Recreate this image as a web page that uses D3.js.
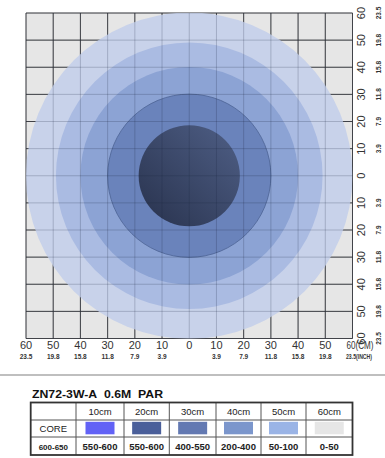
<!DOCTYPE html>
<html><head><meta charset="utf-8">
<script src="https://cdn.jsdelivr.net/npm/d3@7"></script>
<style>body{margin:0;background:#fff;} text{font-family:Arial,"Liberation Sans",sans-serif;}</style>
</head><body>
<svg id="c" width="385" height="458"></svg>
<script>
// ---- data ----
const radiiCm = [60, 49, 40, 30, 18.6];
const ringColors = ["#c8d2ea", "#aabbe2", "#8ca3d4", "#6a83bb", "core"];
const cmTicks = [-60,-50,-40,-30,-20,-10,0,10,20,30,40,50,60];
const cmLabels = ["60","50","40","30","20","10","0","10","20","30","40","50","60"];
const inchLabels = ["23.5","19.8","15.8","11.8","7.9","3.9","","3.9","7.9","11.8","15.8","19.8","23.5"];
const tableTitle = "ZN72-3W-A\u00a0\u00a00.6M\u00a0\u00a0PAR";
const tableHeaders = ["", "10cm", "20cm", "30cm", "40cm", "50cm", "60cm"];
const swatchLabel = "CORE";
const swatchColors = ["#6262f6", "#4a5f9a", "#6379b2", "#7b96cc", "#9ab4e6", "#e6e6e6"];
const parValues = ["600-650", "550-600", "550-600", "400-550", "200-400", "50-100", "0-50"];

const svg = d3.select("#c");
const x = d3.scaleLinear().domain([-60, 60]).range([26, 352.5]);
const y = d3.scaleLinear().domain([60, -60]).range([13, 338.5]);
const k = x(1) - x(0);

const defs = svg.append("defs");
defs.append("clipPath").attr("id","clip").append("rect")
  .attr("x", x(-60)).attr("y", y(60)).attr("width", x(60)-x(-60)).attr("height", y(-60)-y(60));
const g1 = defs.append("linearGradient").attr("id","coreG").attr("x1","0").attr("y1","1").attr("x2","1").attr("y2","0");
g1.append("stop").attr("offset","0").attr("stop-color","#28324d");
g1.append("stop").attr("offset","1").attr("stop-color","#4f5f86");

// background
svg.append("rect").attr("x", x(-60)).attr("y", y(60))
  .attr("width", x(60)-x(-60)).attr("height", y(-60)-y(60)).attr("fill", "#e6e6e6");

function drawGrid(color, opacity) {
  const grid = svg.append("g").attr("stroke", color).attr("stroke-opacity", opacity).attr("stroke-width", 1);
  grid.selectAll("line.v").data(cmTicks).join("line").attr("class","v")
    .attr("x1", d => x(d)).attr("x2", d => x(d)).attr("y1", y(60)).attr("y2", y(-60));
  grid.selectAll("line.h").data(cmTicks).join("line").attr("class","h")
    .attr("y1", d => y(d)).attr("y2", d => y(d)).attr("x1", x(-60)).attr("x2", x(60));
}
drawGrid("#3a3a3a", 0.9);

const plot = svg.append("g").attr("clip-path","url(#clip)");
plot.selectAll("circle.ring").data(radiiCm).join("circle")
  .attr("class","ring")
  .attr("cx", x(0)).attr("cy", y(0))
  .attr("r", d => d * k)
  .attr("fill", (d,i) => ringColors[i] === "core" ? "url(#coreG)" : ringColors[i])
  .attr("stroke", (d,i) => d === 30 ? "#4d6394" : "none")
  .attr("stroke-width", 0.8);

drawGrid("#1a2540", 0.22);

// bottom labels
const bl = svg.append("g").attr("fill", "#333");
cmTicks.forEach((t, i) => {
  const last = i === cmTicks.length - 1;
  if (!last) {
    bl.append("text").attr("x", x(t)).attr("y", 349).attr("text-anchor","middle")
      .attr("font-size", 11).text(cmLabels[i]);
    if (inchLabels[i]) bl.append("text").attr("x", x(t)).attr("y", 358.5).attr("text-anchor","middle")
      .attr("font-size", 6.5).attr("font-weight","bold").text(inchLabels[i]);
  } else {
    bl.append("text").attr("x", x(t) - 6).attr("y", 349).attr("font-size", 10.5)
      .attr("textLength", 27).attr("lengthAdjust","spacingAndGlyphs").text(cmLabels[i] + "(CM)");
    bl.append("text").attr("x", x(t) - 6.5).attr("y", 358.5).attr("font-size", 6.5).attr("font-weight","bold")
      .attr("textLength", 26).attr("lengthAdjust","spacingAndGlyphs").text(inchLabels[i] + "(INCH)");
  }
});

// right labels (rotated)
const rl = svg.append("g").attr("fill", "#333");
cmTicks.forEach((t, i) => {
  rl.append("text").attr("transform", `translate(${361},${y(t)}) rotate(-90)`)
    .attr("text-anchor","middle").attr("dominant-baseline","central")
    .attr("font-size", 11).text(cmLabels[i]);
  if (inchLabels[i]) rl.append("text").attr("transform", `translate(${378},${y(t)}) rotate(-90)`)
    .attr("text-anchor","middle").attr("dominant-baseline","central")
    .attr("font-size", 6.5).attr("font-weight","bold").text(inchLabels[i]);
});

// separator
svg.append("line").attr("x1",0).attr("x2",385).attr("y1",375).attr("y2",375)
  .attr("stroke","#aaa").attr("stroke-width",1.5);

// table
svg.append("text").attr("x", 32).attr("y", 398).attr("font-size", 11).attr("font-weight","bold")
  .attr("fill","#111").attr("textLength", 131).attr("lengthAdjust","spacingAndGlyphs").text(tableTitle);

const colX = [30.7, 76, 124, 169.3, 216, 261, 306, 352.5];
const rowY = [402.5, 420, 437, 455];
const tg = svg.append("g");
colX.slice(1, -1).forEach(cx => tg.append("line").attr("x1",cx).attr("x2",cx).attr("y1",rowY[0]).attr("y2",rowY[3])
  .attr("stroke","#555").attr("stroke-width",1));
rowY.slice(1, -1).forEach(ry => tg.append("line").attr("x1",colX[0]).attr("x2",colX[7]).attr("y1",ry).attr("y2",ry)
  .attr("stroke","#555").attr("stroke-width",1));
tg.append("rect").attr("x", colX[0]).attr("y", rowY[0]).attr("width", colX[7]-colX[0]).attr("height", rowY[3]-rowY[0])
  .attr("fill","none").attr("stroke","#333").attr("stroke-width",1.8);

const mid = i => (colX[i] + colX[i+1]) / 2;
tableHeaders.forEach((h, i) => {
  if (h) tg.append("text").attr("x", mid(i)).attr("y", 414.5).attr("text-anchor","middle")
    .attr("font-size", 9.5).attr("fill","#222").text(h);
});
tg.append("text").attr("x", mid(0)).attr("y", 432).attr("text-anchor","middle")
  .attr("font-size", 9.5).attr("fill","#222").text(swatchLabel);
swatchColors.forEach((c, i) => {
  tg.append("rect").attr("x", mid(i+1) - 14.5).attr("y", 421.8).attr("width", 29).attr("height", 12.5).attr("fill", c);
});
parValues.forEach((v, i) => {
  tg.append("text").attr("x", mid(i)).attr("y", 449.5).attr("text-anchor","middle")
    .attr("font-size", i === 0 ? 8 : 9.5).attr("font-weight","bold").attr("fill","#222").text(v);
});
</script>
</body></html>
